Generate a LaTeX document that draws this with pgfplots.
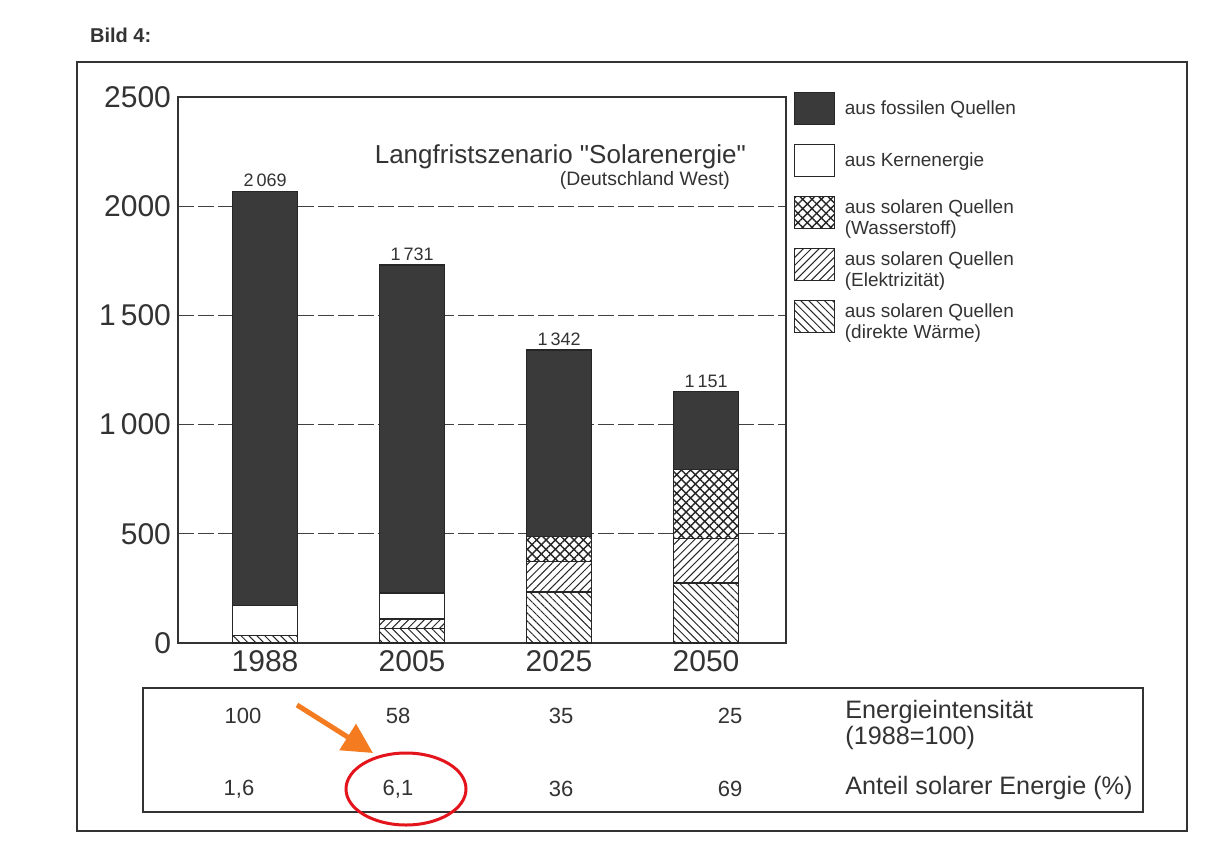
\documentclass[border=0pt]{standalone}
\usepackage{fontspec}
\setmainfont{Liberation Sans}[Ligatures=TeXOff]
\usepackage{pgfplots}
\pgfplotsset{compat=1.18}
\usetikzlibrary{patterns,patterns.meta,arrows.meta}
\definecolor{fossil}{HTML}{3A3A3A}
\definecolor{ink}{HTML}{333333}
\definecolor{annOrange}{HTML}{F47B20}
\definecolor{annRed}{HTML}{E3141B}
\pgfplotsset{boxlegend/.style={legend image code/.code={\pgfpathrectangle{\pgfpoint{0pt}{-13pt}}{\pgfpoint{20pt}{26pt}}\pgfusepath{discard}\draw[##1] (0pt,-8pt) rectangle (20pt,8pt);}}}
\newcommand\legtext[1]{\parbox[c]{120pt}{\raggedright #1}}
\begin{document}
\begin{tikzpicture}
\begin{scope}[x=0.5pt,y=-0.5pt]
\path[use as bounding box] (0,0) rectangle (1215,862);
\fill[white] (0,0) rectangle (1215,862);
\end{scope}
\begin{axis}[
  at={(89pt,-321.5pt)}, anchor=south west,
  scale only axis, width=304pt, height=273pt,
  ybar stacked, bar width=32.5pt,
  xmin=-0.592, xmax=3.544, ymin=0, ymax=2500,
  xtick={0,1,2,3}, xticklabels={1988,2005,2025,2050},
  ytick={0,500,1000,1500,2000,2500},
  yticklabels={0,500,1\,000,1\,500,2000,2500},
  major tick length=0pt,
  ymajorgrids, grid style={black!75, line width=0.5pt, dash pattern=on 8pt off 2pt},
  axis line style={ink, line width=0.9pt},
  /pgf/number format/assume math mode=true,
  tick label style={font=\fontsize{15}{18}\selectfont, text=ink},
  reverse legend,
  legend cell align=left,
  legend style={at={(1.012,1.027)}, anchor=north west, draw=none, fill=none, inner sep=0pt, column sep=5pt, row sep=0pt, font=\fontsize{9.5}{10.5}\selectfont, text=ink, nodes={inner sep=0pt}},
]
% direkte Waerme
\addplot[fill=white, draw=black!85, line width=0.6pt, postaction={pattern={Lines[angle=-45,distance=2.8pt,line width=0.5pt]}, pattern color=black!85}, boxlegend]
  coordinates {(0,33) (1,65) (2,234) (3,275)};
% Elektrizitaet
\addplot[fill=white, draw=black!85, line width=0.6pt, postaction={pattern={Lines[angle=45,distance=2.8pt,line width=0.5pt]}, pattern color=black!85}, boxlegend]
  coordinates {(0,0) (1,45) (2,138) (3,205)};
% Wasserstoff
\addplot[fill=white, draw=black!85, line width=0.6pt, postaction={pattern={Hatch[angle=45,distance=3.3pt,line width=0.7pt]}, pattern color=black!85}, boxlegend]
  coordinates {(0,0) (1,0) (2,114) (3,315)};
% Kernenergie
\addplot[fill=white, draw=black!85, line width=0.6pt, boxlegend]
  coordinates {(0,137) (1,119) (2,0) (3,0)};
% fossil
\addplot[fill=fossil, draw=black!85, line width=0.6pt, boxlegend]
  coordinates {(0,1899) (1,1502) (2,856) (3,356)};
\legend{\legtext{aus solaren Quellen\\(direkte Wärme)},
        \legtext{aus solaren Quellen\\(Elektrizität)},
        \legtext{aus solaren Quellen\\(Wasserstoff)},
        \legtext{aus Kernenergie},
        \legtext{aus fossilen Quellen}}
\end{axis}
% totals above the bars
\begin{axis}[
  at={(89pt,-321.5pt)}, anchor=south west,
  scale only axis, width=304pt, height=273pt,
  xmin=-0.592, xmax=3.544, ymin=0, ymax=2500,
  hide axis,
]
\addplot[only marks, mark=none, nodes near coords, point meta=explicit symbolic,
  every node near coord/.append style={anchor=south, inner sep=2pt, font=\fontsize{9}{10}\selectfont, text=ink}]
  coordinates {(0,2069) [2\,069] (1,1731) [1\,731] (2,1342) [1\,342] (3,1151) [1\,151]};
\end{axis}
\begin{scope}[x=0.5pt,y=-0.5pt, every node/.style={text=ink}]
\node[anchor=east, font=\fontsize{13}{15}\selectfont] at (753,157) {Langfristszenario "Solarenergie"};
\node[anchor=east, font=\fontsize{9.7}{11}\selectfont] at (737,180) {(Deutschland West)};
\node[anchor=west, font=\bfseries\fontsize{10}{12}\selectfont] at (83,35) {Bild 4:};
\draw[ink, line width=1pt] (77,62) rectangle (1187,831);
\draw[ink, line width=0.9pt] (143,688) rectangle (1143,812);
\begin{scope}[every node/.append style={font=\fontsize{11}{13}\selectfont}]
\node at (243,716) {100};
\node at (398,716) {58};
\node at (561,716) {35};
\node at (730,716) {25};
\node at (239,789) {1,6};
\node at (398,789) {6,1};
\node at (561,789) {36};
\node at (730,789) {69};
\end{scope}
\begin{scope}[every node/.append style={font=\fontsize{12.6}{14}\selectfont, inner sep=0pt}]
\node[anchor=west] at (845,712) {Energieintensität};
\node[anchor=west] at (845,738) {(1988=100)};
\node[anchor=west] at (845,788) {Anteil solarer Energie (\%)};
\end{scope}
\draw[annOrange, line width=2.5pt, -{Triangle[length=15pt,width=15pt]}] (297,705) -- (373,753);
\draw[annRed, line width=1.5pt] (406,789) ellipse [x radius=30pt, y radius=18pt];
\end{scope}
\end{tikzpicture}
\end{document}
